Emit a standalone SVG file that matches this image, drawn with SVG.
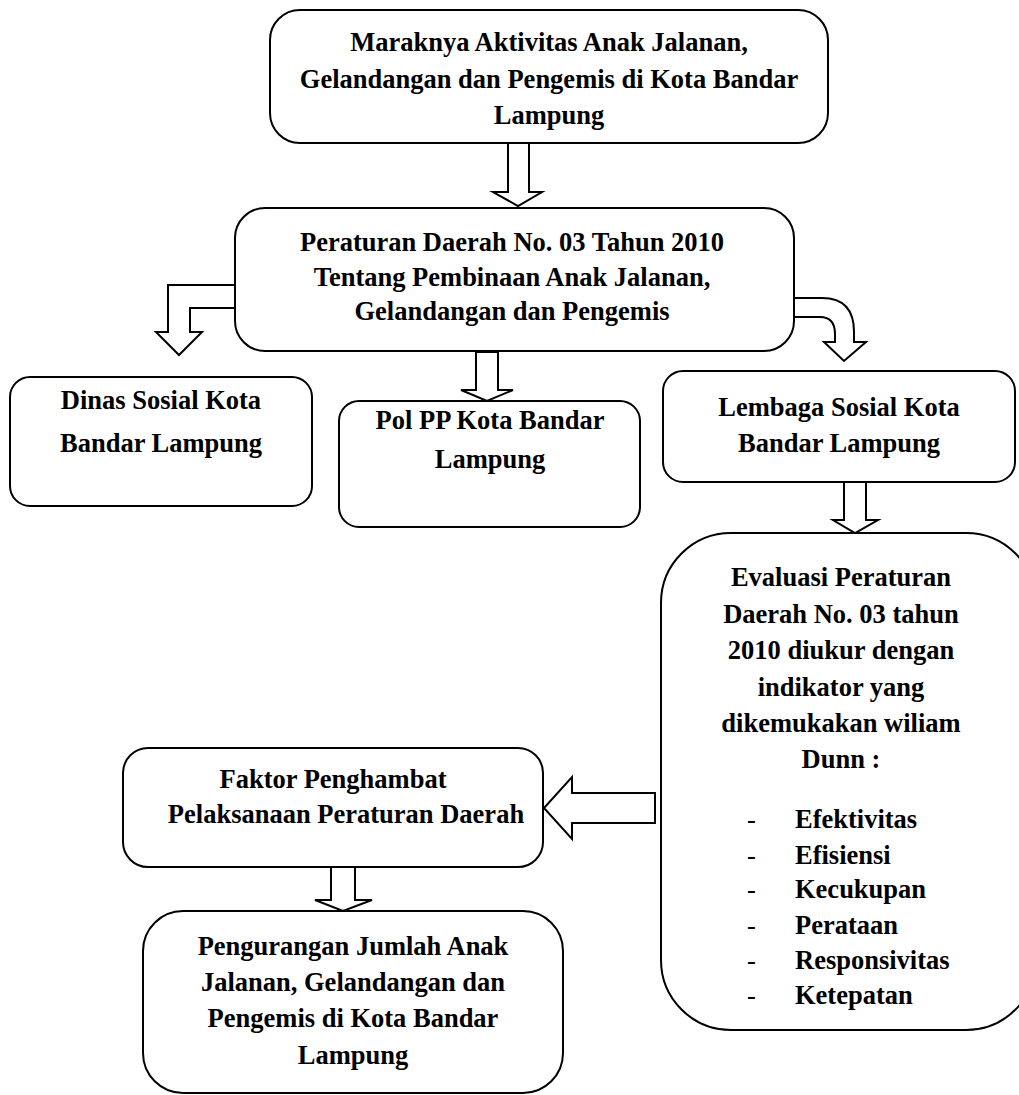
<svg xmlns="http://www.w3.org/2000/svg" width="1019" height="1095" viewBox="0 0 1019 1095">
<style>
.box{fill:#fff;stroke:#000;stroke-width:2}
.arr{fill:#fff;stroke:#000;stroke-width:2;stroke-linejoin:miter}
text{font-family:"Liberation Serif","Times New Roman",serif;font-weight:bold;font-size:26.5px;fill:#000}
.c{text-anchor:middle}
.d{font-weight:normal}
</style>
<rect width="1019" height="1095" fill="#fff"/>
<g id="connectors">
<polygon class="arr" points="508,143 529,143 529,192 542,192 518,206 493,192 508,192"/>
<polygon class="arr" points="235,285 168,285 168,332 156,332 179,355 202,332 190,332 190,308 235,308"/>
<polygon class="arr" points="476,352 498,352 498,390 513,390 487,401 461,390 476,390"/>
<path class="arr" d="M794,298 L822,298 Q854,298 854,332 L854,342 L866,342 L844,361 L824,342 L835,342 L835,334 Q835,317 820,317 L794,317 Z"/>
<polygon class="arr" points="844,482 866,482 866,520 878,520 855,533 833,520 844,520"/>
<polygon class="arr" points="655,793 655,823 572,823 572,839 544,808 572,777 572,793"/>
<polygon class="arr" points="331,867 355,867 355,900 372,900 343,911 315,900 331,900"/>
</g>
<g id="node-maraknya">
<rect class="box" x="270" y="10" width="558" height="133" rx="30"/>
<text class="c" x="549" y="51">Maraknya Aktivitas Anak Jalanan,</text>
<text class="c" x="549" y="88">Gelandangan dan Pengemis di Kota Bandar</text>
<text class="c" x="549" y="124">Lampung</text>
</g>
<g id="node-perda">
<rect class="box" x="235" y="208" width="559" height="143" rx="30"/>
<text class="c" x="512" y="251">Peraturan Daerah No. 03 Tahun 2010</text>
<text class="c" x="512" y="286">Tentang Pembinaan Anak Jalanan,</text>
<text class="c" x="512" y="320">Gelandangan dan Pengemis</text>
</g>
<g id="node-dinas">
<rect class="box" x="10" y="377" width="302" height="129" rx="20"/>
<text class="c" x="161" y="409">Dinas Sosial Kota</text>
<text class="c" x="161" y="452">Bandar Lampung</text>
</g>
<g id="node-polpp">
<rect class="box" x="339" y="401" width="301" height="126" rx="20"/>
<text class="c" x="490" y="429">Pol PP Kota Bandar</text>
<text class="c" x="490" y="468">Lampung</text>
</g>
<g id="node-lembaga">
<rect class="box" x="663" y="371" width="352" height="111" rx="20"/>
<text class="c" x="839" y="416">Lembaga Sosial Kota</text>
<text class="c" x="839" y="452">Bandar Lampung</text>
</g>
<g id="node-evaluasi">
<rect class="box" x="661" y="533" width="375" height="497" rx="70"/>
<text class="c" x="841" y="586">Evaluasi Peraturan</text>
<text class="c" x="841" y="623">Daerah No. 03 tahun</text>
<text class="c" x="841" y="659">2010 diukur dengan</text>
<text class="c" x="841" y="696">indikator yang</text>
<text class="c" x="841" y="732">dikemukakan wiliam</text>
<text class="c" x="841" y="768">Dunn :</text>
<text class="d" x="747" y="828">-</text><text x="795" y="828">Efektivitas</text>
<text class="d" x="747" y="864">-</text><text x="795" y="864">Efisiensi</text>
<text class="d" x="747" y="898">-</text><text x="795" y="898">Kecukupan</text>
<text class="d" x="747" y="934">-</text><text x="795" y="934">Perataan</text>
<text class="d" x="747" y="969">-</text><text x="795" y="969">Responsivitas</text>
<text class="d" x="747" y="1004">-</text><text x="795" y="1004">Ketepatan</text>
</g>
<g id="node-faktor">
<rect class="box" x="123" y="748" width="420" height="119" rx="25"/>
<text class="c" x="333" y="788">Faktor Penghambat</text>
<text class="c" x="346" y="823">Pelaksanaan Peraturan Daerah</text>
</g>
<g id="node-pengurangan">
<rect class="box" x="143" y="911" width="420" height="182" rx="40"/>
<text class="c" x="353" y="955">Pengurangan Jumlah Anak</text>
<text class="c" x="353" y="991">Jalanan, Gelandangan dan</text>
<text class="c" x="353" y="1027">Pengemis di Kota Bandar</text>
<text class="c" x="353" y="1064">Lampung</text>
</g>
</svg>
